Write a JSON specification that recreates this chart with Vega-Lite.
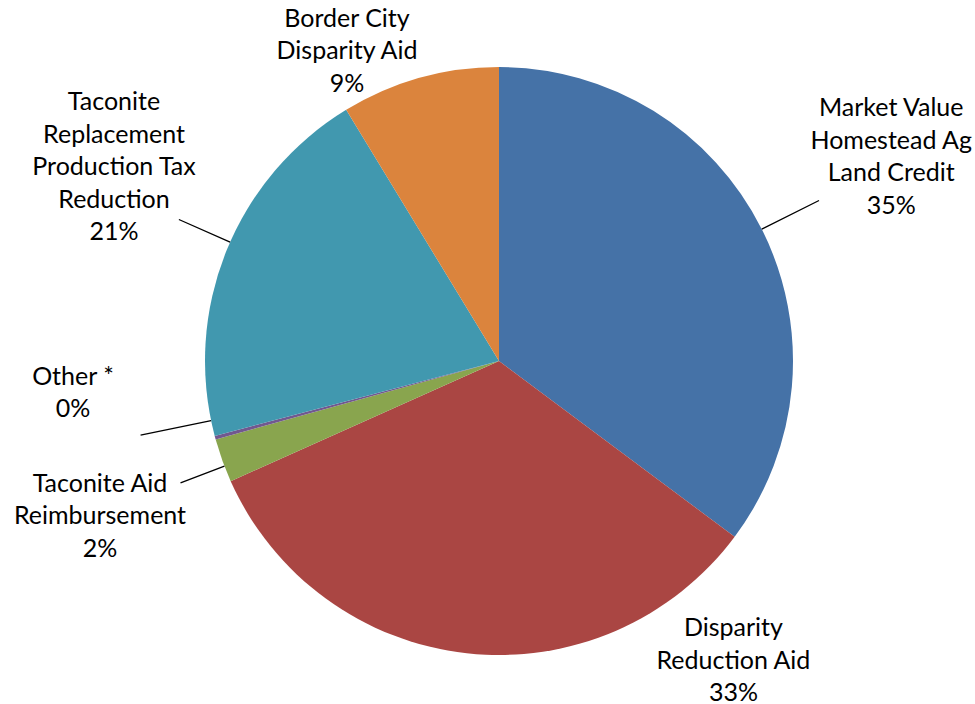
{
  "$schema": "https://vega.github.io/schema/vega-lite/v6.json",
  "width": 952,
  "height": 686,
  "autosize": {"type": "none"},
  "padding": {"left": 23, "top": 18, "right": 0, "bottom": 0},
  "background": "white",
  "config": {"view": {"stroke": null}},
  "data": {
    "values": [
      {"idx": 1, "category": "Market Value Homestead Ag Land Credit", "value": 35.2, "label": "Market Value\nHomestead Ag\nLand Credit\n35%"},
      {"idx": 2, "category": "Disparity Reduction Aid", "value": 33.1, "label": "Disparity\nReduction Aid\n33%"},
      {"idx": 3, "category": "Taconite Aid Reimbursement", "value": 2.4, "label": "Taconite Aid\nReimbursement\n2%"},
      {"idx": 4, "category": "Other *", "value": 0.2, "label": "Other *\n0%"},
      {"idx": 5, "category": "Taconite Replacement Production Tax Reduction", "value": 20.4, "label": "Taconite\nReplacement\nProduction Tax\nReduction\n21%"},
      {"idx": 6, "category": "Border City Disparity Aid", "value": 8.7, "label": "Border City\nDisparity Aid\n9%"}
    ]
  },
  "encoding": {
    "theta": {"field": "value", "type": "quantitative", "stack": true},
    "order": {"field": "idx", "type": "quantitative"},
    "detail": {"field": "category", "type": "nominal"}
  },
  "layer": [
    {
      "mark": {"type": "arc", "radius": 294},
      "encoding": {
        "color": {
          "field": "category",
          "type": "nominal",
          "legend": null,
          "scale": {
            "domain": ["Market Value Homestead Ag Land Credit", "Disparity Reduction Aid", "Taconite Aid Reimbursement", "Other *", "Taconite Replacement Production Tax Reduction", "Border City Disparity Aid"],
            "range": ["#4572A7", "#AA4643", "#89A54E", "#71588F", "#4198AF", "#DB843D"]
          }
        }
      }
    },
    {
      "mark": {"type": "arc", "padAngle": 3.1416, "radius": 358, "radius2": 294, "fillOpacity": 0, "stroke": "black", "strokeWidth": 1.3},
      "encoding": {"strokeOpacity": {"condition": {"test": "datum.idx === 1", "value": 1}, "value": 0}}
    },
    {
      "mark": {"type": "arc", "padAngle": 3.1416, "radius": 350, "radius2": 294, "thetaOffset": 0.033, "theta2Offset": 0.033, "fillOpacity": 0, "stroke": "black", "strokeWidth": 1.3},
      "encoding": {"strokeOpacity": {"condition": {"test": "datum.idx === 5", "value": 1}, "value": 0}}
    },
    {
      "mark": {"type": "arc", "padAngle": 3.1416, "radius": 366, "radius2": 294, "thetaOffset": 0.06, "theta2Offset": 0.06, "fillOpacity": 0, "stroke": "black", "strokeWidth": 1.3},
      "encoding": {"strokeOpacity": {"condition": {"test": "datum.idx === 4", "value": 1}, "value": 0}}
    },
    {
      "mark": {"type": "arc", "padAngle": 3.1416, "radius": 341, "radius2": 294, "thetaOffset": -0.02, "theta2Offset": -0.02, "fillOpacity": 0, "stroke": "black", "strokeWidth": 1.3},
      "encoding": {"strokeOpacity": {"condition": {"test": "datum.idx === 3", "value": 1}, "value": 0}}
    },
    {
      "mark": {"type": "text", "radius": 466.6, "thetaOffset": -0.1075, "font": "Lato", "fontSize": 25, "lineHeight": 32.5, "lineBreak": "\n", "align": "center", "baseline": "middle", "color": "black"},
      "encoding": {"text": {"field": "label"}, "opacity": {"condition": {"test": "datum.idx === 1", "value": 1}, "value": 0}}
    },
    {
      "mark": {"type": "text", "radius": 464, "thetaOffset": 0.2089, "font": "Lato", "fontSize": 25, "lineHeight": 32.5, "lineBreak": "\n", "align": "center", "baseline": "middle", "color": "black"},
      "encoding": {"text": {"field": "label"}, "opacity": {"condition": {"test": "datum.idx === 5", "value": 1}, "value": 0}}
    },
    {
      "mark": {"type": "text", "radius": 426.3, "thetaOffset": 0.2264, "font": "Lato", "fontSize": 25, "lineHeight": 32.5, "lineBreak": "\n", "align": "center", "baseline": "middle", "color": "black"},
      "encoding": {"text": {"field": "label"}, "opacity": {"condition": {"test": "datum.idx === 4", "value": 1}, "value": 0}}
    },
    {
      "mark": {"type": "text", "radius": 417.5, "thetaOffset": 0.0466, "font": "Lato", "fontSize": 25, "lineHeight": 32.5, "lineBreak": "\n", "align": "center", "baseline": "middle", "color": "black"},
      "encoding": {"text": {"field": "label"}, "opacity": {"condition": {"test": "datum.idx === 3", "value": 1}, "value": 0}}
    },
    {
      "mark": {"type": "text", "radius": 374.3, "thetaOffset": -0.1449, "font": "Lato", "fontSize": 25, "lineHeight": 32.5, "lineBreak": "\n", "align": "center", "baseline": "middle", "color": "black"},
      "encoding": {"text": {"field": "label"}, "opacity": {"condition": {"test": "datum.idx === 6", "value": 1}, "value": 0}}
    },
    {
      "mark": {"type": "text", "radius": 355.5, "thetaOffset": -0.83, "font": "Lato", "fontSize": 25, "lineHeight": 32.5, "lineBreak": "\n", "align": "center", "baseline": "middle", "color": "black"},
      "encoding": {"text": {"field": "label"}, "opacity": {"condition": {"test": "datum.idx === 2", "value": 1}, "value": 0}}
    }
  ]
}
